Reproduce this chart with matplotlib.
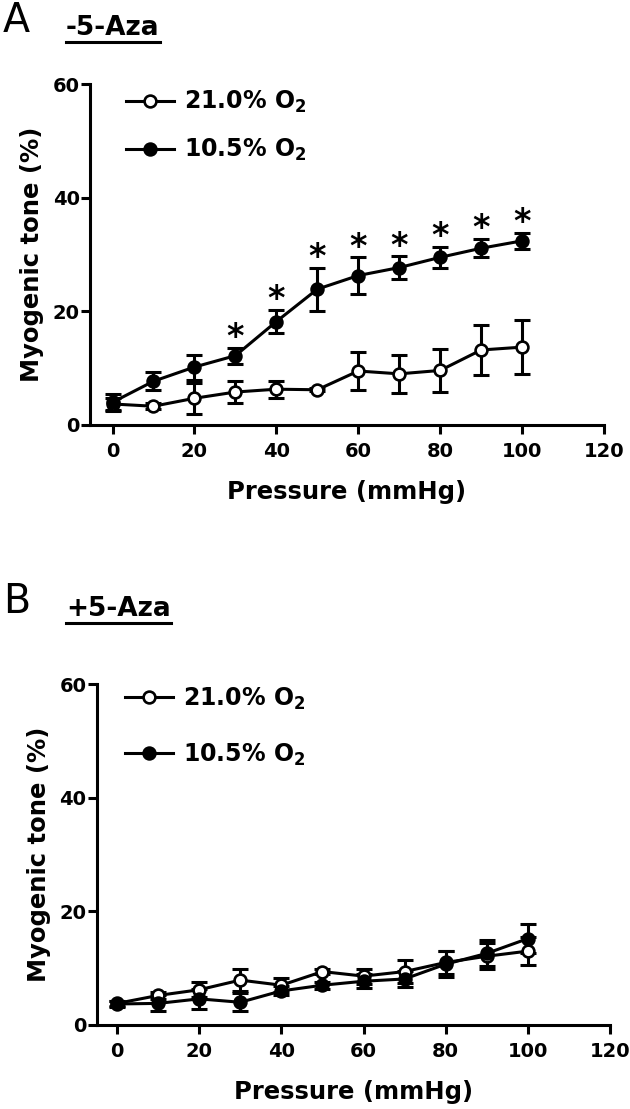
import matplotlib
matplotlib.use("Agg")
import matplotlib.pyplot as plt
from matplotlib.lines import Line2D
import numpy as np

plt.rcParams['mathtext.fontset'] = 'dejavusans'
plt.rcParams['font.family'] = 'DejaVu Sans'

# ---------------- data ----------------
pressure = [0, 10, 20, 30, 40, 50, 60, 70, 80, 90, 100]

# Panel A  (-5-Aza)
a_norm_mean = [3.7, 3.3, 4.7, 5.8, 6.3, 6.2, 9.5, 9.0, 9.6, 13.2, 13.7]
a_norm_err = [1.0, 0.5, 2.7, 1.9, 1.5, 0.3, 3.4, 3.4, 3.8, 4.4, 4.7]
a_hyp_mean = [4.0, 7.7, 10.2, 12.2, 18.2, 23.9, 26.3, 27.7, 29.5, 31.1, 32.4]
a_hyp_err = [1.5, 1.6, 2.2, 1.4, 2.1, 3.8, 3.2, 2.0, 1.9, 1.6, 1.4]
a_sig = [False, False, False, True, True, True, True, True, True, True, True]

# Panel B  (+5-Aza)
b_norm_mean = [3.8, 5.2, 6.2, 7.9, 7.0, 9.4, 8.6, 9.4, 11.0, 12.1, 13.0]
b_norm_err = [0.5, 0.6, 1.3, 1.9, 1.2, 0.5, 1.3, 2.0, 2.0, 2.3, 2.4]
b_hyp_mean = [3.7, 3.8, 4.6, 4.0, 6.0, 7.0, 7.7, 8.1, 10.7, 12.6, 15.2]
b_hyp_err = [0.5, 1.4, 1.7, 1.6, 0.8, 0.6, 1.2, 1.4, 2.3, 2.3, 2.6]

series_labels = ['21.0% O$_\\mathbf{2}$', '10.5% O$_\\mathbf{2}$']
panel_letters = ['A', 'B']
panel_titles = ['-5-Aza', '+5-Aza']
xticks = [0, 20, 40, 60, 80, 100, 120]
yticks = [0, 20, 40, 60]
xlabel = 'Pressure (mmHg)'
ylabel = 'Myogenic tone (%)'

# ---------------- figure ----------------
W, H = 630, 1109
fig = plt.figure(figsize=(W / 100, H / 100), dpi=100)

LW = 2.2
label_font = dict(family='DejaVu Sans', weight='bold', size=17.5)


def make_panel(rect, xleft, nm, ne, hm, he, sig, legend_x, legend_y,
               legend_sp):
    ax = fig.add_axes(rect)
    ax.set_xlim(xleft, 120)
    ax.set_ylim(0, 60)
    for s in ['top', 'right']:
        ax.spines[s].set_visible(False)
    for s in ['left', 'bottom']:
        ax.spines[s].set_linewidth(LW)
    ax.set_xticks(xticks)
    ax.set_yticks(yticks)
    ax.tick_params(axis='both', width=LW, length=6.5, direction='out')
    ax.tick_params(axis='x', pad=5.5)
    ax.tick_params(axis='y', pad=1)
    for t in ax.get_xticklabels() + ax.get_yticklabels():
        t.set_fontweight('bold')
        t.set_fontsize(14)

    eb_kw = dict(fmt='none', ecolor='black', elinewidth=LW, capsize=5.5,
                 capthick=LW, zorder=2)
    ax.errorbar(pressure, nm, yerr=ne, **eb_kw)
    l1, = ax.plot(pressure, nm, '-o', color='black', lw=LW, ms=8.5,
                  mfc='white', mec='black', mew=1.9, zorder=3)
    ax.errorbar(pressure, hm, yerr=he, **eb_kw)
    l2, = ax.plot(pressure, hm, '-o', color='black', lw=LW, ms=8.5,
                  mfc='black', mec='black', mew=1.9, zorder=4)

    for x, m, e, s in zip(pressure, hm, he, sig):
        if s:
            ax.annotate('*', (x, m + e), xytext=(0, 0.5),
                        textcoords='offset points', ha='center',
                        va='baseline', fontsize=24, fontweight='bold')

    ax.set_xlabel(xlabel, **label_font)
    ax.set_ylabel(ylabel, **label_font)
    ax.xaxis.set_label_coords(0.5, -0.16)
    ax.yaxis.set_label_coords(-0.09, 0.5)

    ax.legend([l1, l2], series_labels, loc='upper left',
              bbox_to_anchor=(legend_x, legend_y), frameon=False,
              prop=dict(family='DejaVu Sans', weight='bold', size=17),
              handlelength=2.05, handletextpad=0.4, borderpad=0,
              borderaxespad=0, labelspacing=legend_sp)
    return ax


axA = make_panel([90 / W, 1 - 425 / H, 514 / W, 341 / H], -5.5,
                 a_norm_mean, a_norm_err, a_hyp_mean, a_hyp_err, a_sig,
                 0.070, 0.985, 0.92)
axB = make_panel([96.7 / W, 1 - 1025 / H, 513.3 / W, 341 / H], -4.95,
                 b_norm_mean, b_norm_err, b_hyp_mean, b_hyp_err,
                 [False] * len(pressure), 0.055, 0.995, 1.25)

# panel letters and titles
letter_pos = [(3, 32), (3, 613)]
title_pos = [(66, 35), (66, 616)]
title_texts = []
for (lx, ly), (tx, ty), letter, title in zip(letter_pos, title_pos,
                                             panel_letters, panel_titles):
    fig.text(lx / W, 1 - ly / H, letter, fontsize=28.5, ha='left',
             va='baseline')
    t = fig.text(tx / W, 1 - ty / H, title, fontsize=19, weight='bold',
                 ha='left', va='baseline')
    title_texts.append(t)

fig.canvas.draw()
r = fig.canvas.get_renderer()
for t in title_texts:
    bb = t.get_window_extent(renderer=r)
    y = bb.y0 - 1
    fig.add_artist(Line2D([bb.x0 / W, bb.x1 / W], [y / H, y / H],
                          transform=fig.transFigure, color='black', lw=2.2))

fig.savefig('out.png', dpi=100)
